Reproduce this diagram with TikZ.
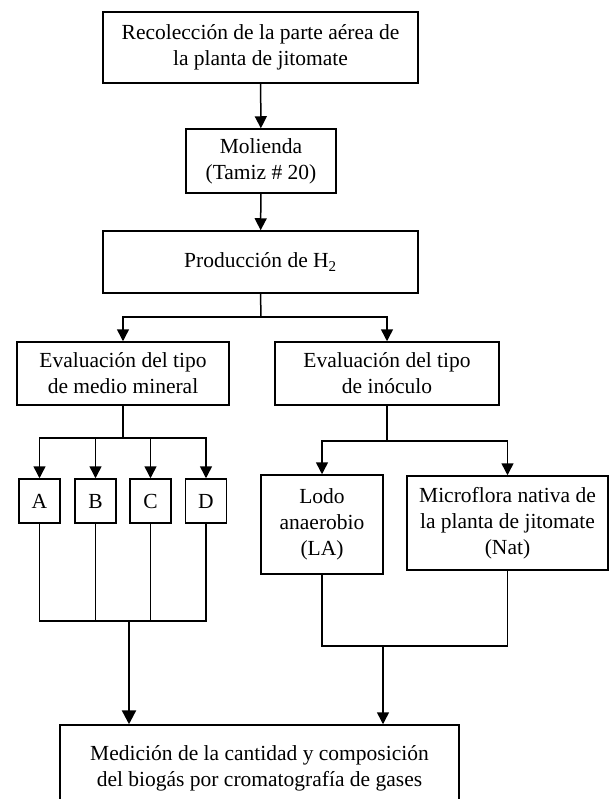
\documentclass[tikz,border=0pt]{standalone}
\usepackage{fontspec}
\setmainfont{Liberation Serif}
\usetikzlibrary{arrows.meta}

\begin{document}
\begin{tikzpicture}[x=1pt, y=-1pt, line width=1.5pt,
    every node/.style={draw, rectangle, align=center, inner sep=0pt, font=\fontsize{21.5}{26}\selectfont},
    flecha/.style={-{Triangle[length=12pt,width=12pt]}}]
                \useasboundingbox (0,0) rectangle (611,799);

                \node[minimum width=315, minimum height=71] (rec) at (260.5,47.5) {Recolección de la parte aérea de\\la planta de jitomate};
                \node[minimum width=150, minimum height=64] (mol) at (261,161) {Molienda\\(Tamiz \# 20)};
                \node[minimum width=315, minimum height=62] (prod) at (260.5,262) {Producción de H\textsubscript{2}};
                \node[minimum width=212, minimum height=63] (evm) at (123,373.5) {Evaluación del tipo\\de medio mineral};
                \node[minimum width=224, minimum height=63] (evi) at (387,373.5) {Evaluación del tipo\\de inóculo};
                \node[minimum width=41, minimum height=44] (A) at (39.5,501) {A};
                \node[minimum width=41, minimum height=44] (B) at (95.5,501) {B};
                \node[minimum width=41, minimum height=44] (C) at (150.5,501) {C};
                \node[minimum width=41, minimum height=44] (D) at (206,501) {D};
                \node[minimum width=122, minimum height=99] (lodo) at (322,524.5) {Lodo\\anaerobio\\(LA)};
                \node[minimum width=201, minimum height=94] (nat) at (507.5,523) {Microflora nativa de\\la planta de jitomate\\(Nat)};
                \node[minimum width=399, minimum height=87] (med) at (259.5,768.5) {Medición de la cantidad y composición\\del biogás por cromatografía de gases};

                \coordinate (j1) at (261,317);
                \coordinate (j2) at (123,438);
                \coordinate (j3) at (387,441);
                \coordinate (m1) at (129,621);
                \coordinate (m2) at (383,646);

                \draw[flecha] (rec) -- (mol);
                \draw[flecha] (mol) -- (prod);
                \draw (prod.south) -- (j1);
                \draw[flecha] (j1) -| (evm.north);
                \draw[flecha] (j1) -| (evi.north);
                \draw (evm.south) -- (j2);
                \draw[flecha] (j2) -| (A.north);
                \draw[flecha] (j2) -| (B.north);
                \draw[flecha] (j2) -| (C.north);
                \draw[flecha] (j2) -| (D.north);
                \draw (evi.south) -- (j3);
                \draw[flecha] (j3) -| (lodo.north);
                \draw[flecha] (j3) -| (nat.north);
                \draw (A.south) |- (m1) -| (D.south);
                \draw (B.south) -- (B.south |- m1);
                \draw (C.south) -- (C.south |- m1);
                \draw[-{Triangle[length=14pt,width=14pt]}, line width=2.4pt] (m1) -- (m1 |- med.north);
                \draw (lodo.south) |- (m2) -| (nat.south);
                \draw[flecha] (m2) -- (m2 |- med.north);
            \end{tikzpicture}
\end{document}
